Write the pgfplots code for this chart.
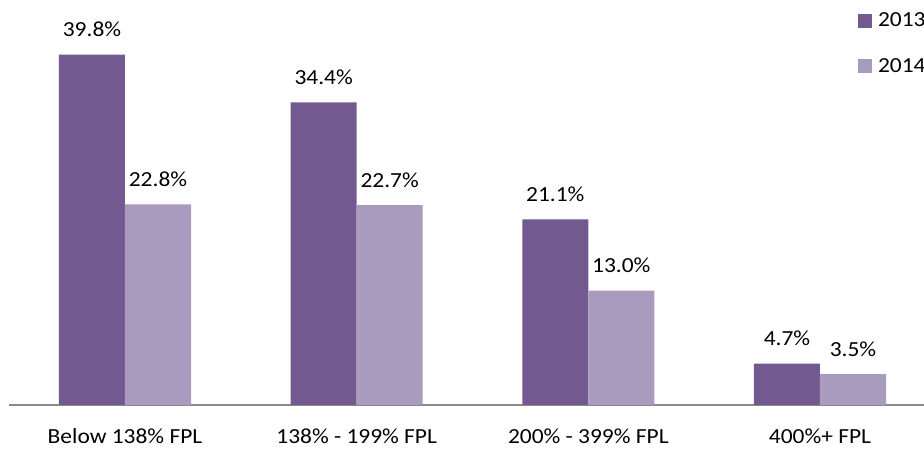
\documentclass[border=0pt]{standalone}
\usepackage{fontspec}
\setmainfont{Carlito}[FakeStretch=1.09]
\usepackage{pgfplots}
\pgfplotsset{compat=1.18}
\definecolor{darkp}{HTML}{725A91}
\definecolor{lightp}{HTML}{A99BBE}
\definecolor{axgray}{HTML}{898989}
\begin{document}
\begin{tikzpicture}[x=1pt,y=1pt]
\path[use as bounding box] (0,0) rectangle (924,449);
\begin{axis}[
  at={(9pt,44pt)}, anchor=south west,
  scale only axis, width=915pt, height=405pt,
  xmin=-0.5007, xmax=3.449, ymin=0, ymax=46.02,
  axis x line*=bottom, axis y line=none,
  axis line style={-, draw=axgray, line width=1.8pt},
  xtick={0,1,2,3},
  xticklabels={Below 138\% FPL,138\% - 199\% FPL,200\% - 399\% FPL,400\%+ FPL},
  major tick length=0pt,
  xticklabel style={anchor=base, yshift=-39pt, font=\fontsize{21.5}{26}\selectfont},
  /pgf/number format/assume math mode=true,
  bar width=0.285,
  legend style={at={(axis description cs:0.9279,0.968)}, anchor=north west, draw=none, fill=none,
    inner sep=0pt, outer sep=0pt, nodes={inner sep=0pt, font=\fontsize{21.5}{26}\selectfont}, column sep=6pt, row sep=30pt},
  legend cell align=left,
  legend image code/.code={\fill[#1] (0pt,-7pt) rectangle (14pt,7pt);},
]
\addplot[ybar, bar shift=-0.1425, fill=darkp, draw=none,
  nodes near coords={\pgfmathprintnumber[fixed,fixed zerofill,precision=1]{\pgfplotspointmeta}\%},
  nodes near coords style={anchor=base, xshift=-33pt, yshift=18pt, font=\fontsize{21.5}{26}\selectfont, text=black, inner sep=0pt}]
  coordinates {(0,39.8) (1,34.4) (2,21.1) (3,4.7)};
\addplot[ybar, bar shift=0.1425, fill=lightp, draw=none,
  nodes near coords={\pgfmathprintnumber[fixed,fixed zerofill,precision=1]{\pgfplotspointmeta}\%},
  nodes near coords style={anchor=base, xshift=33pt, yshift=18pt, font=\fontsize{21.5}{26}\selectfont, text=black, inner sep=0pt}]
  coordinates {(0,22.8) (1,22.7) (2,13.0) (3,3.5)};
\legend{2013,2014}
\end{axis}
\end{tikzpicture}
\end{document}
